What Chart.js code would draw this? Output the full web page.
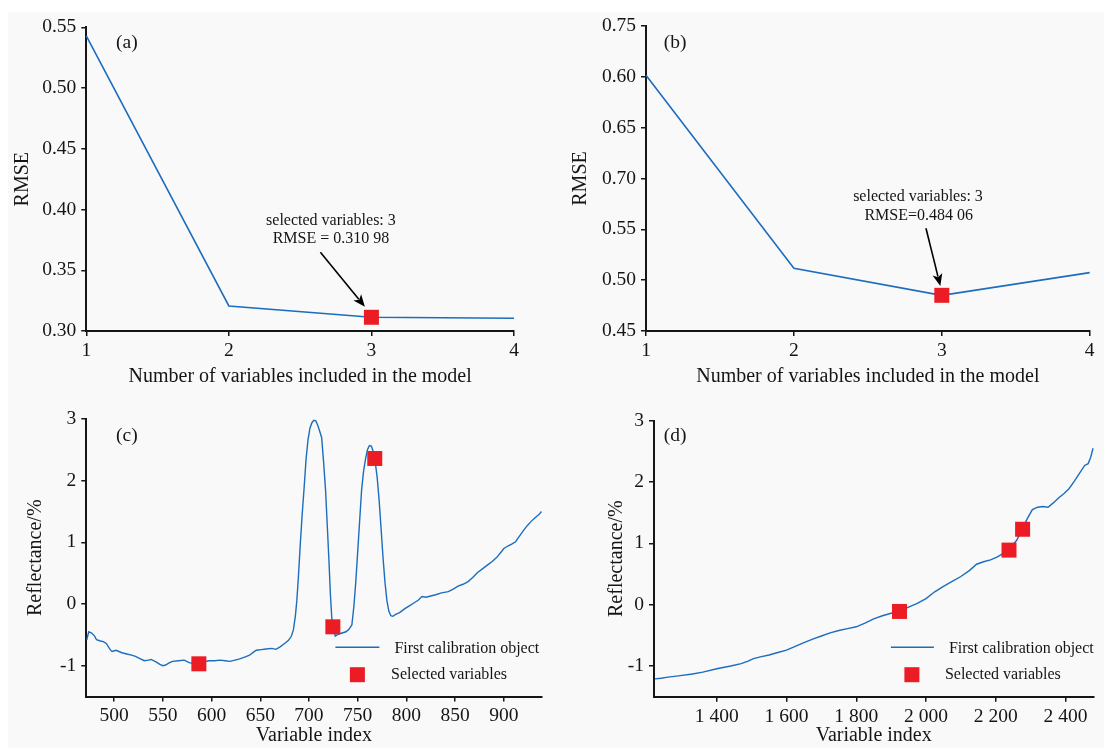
<!DOCTYPE html>
<html><head><meta charset="utf-8">
<script src="https://cdn.jsdelivr.net/npm/chart.js@4.4.1/dist/chart.umd.min.js"></script>
<style>
html,body{margin:0;padding:0;background:#fff;}
#wrap{position:relative;width:1104px;height:748px;overflow:hidden;background:#fff;}
#bg{position:absolute;left:8px;top:12px;right:0;bottom:0;background:#f9f9f9;}
canvas{position:absolute;}
</style></head><body>
<div id="wrap"><div id="bg"></div>
<canvas id="ca" width="552" height="389" style="left:0;top:0"></canvas>
<canvas id="cb" width="552" height="389" style="left:552px;top:0"></canvas>
<canvas id="cc" width="552" height="359" style="left:0;top:389px"></canvas>
<canvas id="cd" width="552" height="359" style="left:552px;top:389px"></canvas>
</div>
<script>
// ---------- DATA ----------
// (a)
const aNum = [1, 2, 3, 4];
const aRMSE = [0.543, 0.3206, 0.3113, 0.3105];
const aSelX = [3];
const aSelY = [0.3113];
const aYTicks = [0.30, 0.35, 0.40, 0.45, 0.50, 0.55];
const aYLabels = ['0.30', '0.35', '0.40', '0.45', '0.50', '0.55'];
// (b)  (tick labels reproduced as printed in the source figure)
const bNum = [1, 2, 3, 4];
const bRMSE = [0.7015, 0.5117, 0.4851, 0.5074];
const bSelX = [3];
const bSelY = [0.4851];
const bYTicks = [0.45, 0.50, 0.55, 0.60, 0.65, 0.70, 0.75];
const bYLabels = ['0.45', '0.50', '0.55', '0.70', '0.65', '0.60', '0.75'];
const numTicks = [1, 2, 3, 4];
const numLabels = ['1', '2', '3', '4'];
// (c)
const cIndex = [472,474,477,480,482,486,489,492,496,498,502,505,508,513,518,522,526,531,535,538,543,547,550,553,556,560,566,572,577,581,585,590,597,603,609,614,619,624,629,634,639,643,646,651,656,662,666,670,675,679,682,684,686,687.5,689,691,693,695,697,699,701,703,705,707,709,711,713,715,717,719,720.5,722,723.5,725,727,730,734,738,741,744,746,748,750,752,754,756,758,760,762,764,766,768,770,772,774,776,778,780,782,784,786,789,793,798,803,808,812,816,820,825,830,836,843,848,853,858,863,868,873,878,883,888,893,897,900,904,908,912,916,920,924,928,932,936,938.5];
const cRefl = [-0.58,-0.45,-0.47,-0.52,-0.58,-0.60,-0.61,-0.64,-0.74,-0.77,-0.75,-0.77,-0.79,-0.81,-0.83,-0.85,-0.88,-0.92,-0.91,-0.90,-0.94,-0.98,-1.00,-0.99,-0.96,-0.93,-0.92,-0.91,-0.95,-0.96,-0.97,-0.95,-0.92,-0.92,-0.91,-0.92,-0.93,-0.91,-0.89,-0.86,-0.83,-0.78,-0.75,-0.74,-0.73,-0.72,-0.735,-0.70,-0.64,-0.59,-0.52,-0.42,-0.20,0.05,0.40,0.95,1.45,1.88,2.35,2.66,2.85,2.94,2.98,2.97,2.90,2.80,2.70,2.30,1.85,1.20,0.70,0.15,-0.25,-0.42,-0.52,-0.49,-0.47,-0.45,-0.41,-0.34,-0.05,0.35,0.85,1.35,1.85,2.15,2.35,2.50,2.57,2.56,2.47,2.30,2.05,1.68,1.22,0.75,0.35,0.05,-0.12,-0.19,-0.20,-0.17,-0.14,-0.08,-0.03,0.02,0.06,0.12,0.11,0.13,0.15,0.18,0.20,0.24,0.29,0.32,0.36,0.43,0.51,0.57,0.63,0.69,0.76,0.84,0.90,0.94,0.97,1.01,1.10,1.19,1.27,1.34,1.40,1.45,1.50];
const cSelX = [587, 724.5, 767.5];
const cSelY = [-0.97, -0.37, 2.36];
const cXTicks = [500, 550, 600, 650, 700, 750, 800, 850, 900];
const cXLabels = ['500', '550', '600', '650', '700', '750', '800', '850', '900'];
// (d)
const dIndex = [1222,1240,1260,1290,1330,1360,1400,1440,1470,1490,1505,1525,1550,1575,1600,1625,1650,1675,1700,1725,1750,1775,1800,1825,1850,1875,1900,1925,1950,1975,2000,2025,2050,2075,2100,2125,2145,2165,2185,2205,2225,2245,2260,2275,2290,2305,2320,2335,2350,2365,2380,2395,2410,2425,2440,2455,2465,2472,2479];
const dRefl = [-1.21,-1.20,-1.18,-1.16,-1.13,-1.10,-1.045,-1.00,-0.96,-0.92,-0.88,-0.85,-0.82,-0.78,-0.74,-0.68,-0.62,-0.56,-0.51,-0.46,-0.42,-0.39,-0.36,-0.30,-0.23,-0.18,-0.14,-0.10,-0.04,0.02,0.10,0.21,0.30,0.38,0.46,0.56,0.66,0.70,0.73,0.78,0.85,0.95,1.05,1.22,1.40,1.55,1.59,1.60,1.59,1.66,1.74,1.81,1.89,2.01,2.14,2.27,2.30,2.40,2.55];
const dSelX = [1924, 2238, 2277];
const dSelY = [-0.11, 0.89, 1.23];
const dXTicks = [1400, 1600, 1800, 2000, 2200, 2400];
const dXLabels = ['1 400', '1 600', '1 800', '2 000', '2 200', '2 400'];
const reflTicks = [-1, 0, 1, 2, 3];
const reflLabels = ['-1', '0', '1', '2', '3'];

// ---------- STYLE ----------
const FONT = "'Liberation Serif', 'Times New Roman', serif";
const BIG = 19.5, TITLE = 20, SMALL = 16;
const BLUE = '#1c6dbe', RED = '#ec1c24', INK = '#151515';

const zip = (xs, ys) => xs.map((x, i) => ({x, y: ys[i]}));

const overlay = {
  id: 'overlay',
  afterDatasetsDraw(chart) {
    const o = chart.options.plugins.overlay;
    const {ctx, chartArea: ca, scales} = chart;
    ctx.save();
    ctx.fillStyle = INK;
    ctx.textBaseline = 'middle';
    ctx.font = BIG + 'px ' + FONT;
    ctx.textAlign = 'center';
    ctx.fillText(o.panel.text, ca.left + o.panel.dx, ca.top + o.panel.dy);
    if (o.annot) {
      ctx.font = SMALL + 'px ' + FONT;
      o.annot.texts.forEach(t => {
        ctx.fillText(t.text, scales.x.getPixelForValue(t.x), scales.y.getPixelForValue(t.y));
      });
      const a = o.annot.arrow;
      const x1 = scales.x.getPixelForValue(a.x1), y1 = scales.y.getPixelForValue(a.y1);
      const x2 = scales.x.getPixelForValue(a.x2), y2 = scales.y.getPixelForValue(a.y2);
      const ang = Math.atan2(y2 - y1, x2 - x1);
      const L = 12, W = 5;
      ctx.strokeStyle = '#000'; ctx.fillStyle = '#000'; ctx.lineWidth = 1.6;
      ctx.beginPath(); ctx.moveTo(x1, y1);
      ctx.lineTo(x2 - Math.cos(ang) * L * 0.8, y2 - Math.sin(ang) * L * 0.8); ctx.stroke();
      ctx.beginPath();
      ctx.moveTo(x2, y2);
      ctx.lineTo(x2 - Math.cos(ang) * L - Math.sin(ang) * W, y2 - Math.sin(ang) * L + Math.cos(ang) * W);
      ctx.lineTo(x2 - Math.cos(ang) * L * 0.75, y2 - Math.sin(ang) * L * 0.75);
      ctx.lineTo(x2 - Math.cos(ang) * L + Math.sin(ang) * W, y2 - Math.sin(ang) * L - Math.cos(ang) * W);
      ctx.closePath(); ctx.fill();
    }
    if (o.legend) {
      const g = o.legend;
      const ds = chart.data.datasets;
      ctx.font = SMALL + 'px ' + FONT;
      ctx.textAlign = 'left';
      ctx.fillStyle = INK;
      ctx.strokeStyle = BLUE; ctx.lineWidth = 1.6;
      const ly = ca.bottom + g.lineDy;
      ctx.beginPath(); ctx.moveTo(ca.right + g.lineX1, ly); ctx.lineTo(ca.right + g.lineX2, ly); ctx.stroke();
      ctx.fillText(ds[1].label, ca.right + g.text1X, ly + 1);
      const sy = ca.bottom + g.sqDy;
      ctx.fillStyle = RED;
      ctx.fillRect(ca.right + g.sqX - 7.5, sy - 7.5, 15, 15);
      ctx.fillStyle = INK;
      ctx.fillText(ds[0].label, ca.right + g.text2X, sy);
    }
    ctx.restore();
  }
};

function axis(opts) {
  return {
    type: 'linear', position: opts.pos, min: opts.min, max: opts.max,
    afterBuildTicks: s => { s.ticks = opts.ticks.map(v => ({value: v})); },
    afterFit: s => { if (opts.pos === 'left') s.width = opts.size; else s.height = opts.size; },
    ticks: {
      autoSkip: false, maxRotation: 0, minRotation: 0,
      padding: opts.pos === 'left' ? 5 : 3,
      color: INK, font: {family: FONT, size: BIG},
      callback: (v) => { const i = opts.ticks.indexOf(v); return i >= 0 ? opts.labels[i] : ''; }
    },
    grid: {drawOnChartArea: false, drawTicks: true, tickLength: 5, tickColor: INK, tickWidth: 1.5, lineWidth: 1.5},
    border: {display: true, color: INK, width: 2},
    title: {display: true, text: opts.title, color: INK, font: {family: FONT, size: TITLE, lineHeight: 1.2},
            padding: opts.pos === 'left' ? {top: opts.titlePad, bottom: 0} : {top: 0, bottom: opts.titlePad}}
  };
}

function make(id, cfg) {
  new Chart(document.getElementById(id), {
    type: 'line',
    data: {datasets: [
      {label: 'Selected variables', data: zip(cfg.selX, cfg.selY), showLine: false,
       pointStyle: 'rect', pointRadius: 10.6, pointHoverRadius: 10.6, pointBackgroundColor: RED,
       pointBorderWidth: 0, backgroundColor: RED, borderColor: RED},
      {label: 'First calibration object', data: zip(cfg.lx, cfg.ly), borderColor: BLUE, borderWidth: cfg.lw,
       pointRadius: 0, tension: 0, fill: false}
    ]},
    options: {
      responsive: false, animation: false, events: [],
      layout: {padding: cfg.pad},
      clip: false,
      plugins: {legend: {display: false}, tooltip: {enabled: false}, overlay: cfg.overlay},
      scales: {
        x: axis(Object.assign({pos: 'bottom'}, cfg.x)),
        y: axis(Object.assign({pos: 'left'}, cfg.y))
      }
    },
    plugins: [overlay]
  });
}

make('ca', {
  lx: aNum, ly: aRMSE, selX: aSelX, selY: aSelY, lw: 1.6,
  pad: {left: 0, top: 27.3, right: 38, bottom: 0},
  x: {min: 1, max: 4, ticks: numTicks, labels: numLabels, size: 58, title: 'Number of variables included in the model', titlePad: 0},
  y: {min: 0.30, max: 0.55, ticks: aYTicks, labels: aYLabels, size: 86.3, title: 'RMSE', titlePad: 11},
  overlay: {panel: {text: '(a)', dx: 40.5, dy: 16},
    annot: {texts: [{text: 'selected variables: 3', x: 2.716, y: 0.391}, {text: 'RMSE = 0.310 98', x: 2.716, y: 0.3757}],
            arrow: {x1: 2.642, y1: 0.3648, x2: 2.954, y2: 0.320}}}
});
make('cb', {
  lx: bNum, ly: bRMSE, selX: bSelX, selY: bSelY, lw: 1.6,
  pad: {left: 0, top: 26, right: 14.3, bottom: 0},
  x: {min: 1, max: 4, ticks: numTicks, labels: numLabels, size: 58, title: 'Number of variables included in the model', titlePad: 0},
  y: {min: 0.45, max: 0.75, ticks: bYTicks, labels: bYLabels, size: 94, title: 'RMSE', titlePad: 17},
  overlay: {panel: {text: '(b)', dx: 29, dy: 17.3},
    annot: {texts: [{text: 'selected variables: 3', x: 2.839, y: 0.582}, {text: 'RMSE=0.484 06', x: 2.844, y: 0.563}],
            arrow: {x1: 2.893, y1: 0.551, x2: 2.99, y2: 0.4943}}}
});
make('cc', {
  lx: cIndex, ly: cRefl, selX: cSelX, selY: cSelY, lw: 1.4,
  pad: {left: 0, top: 30, right: 4.5, bottom: 0},
  x: {min: 471.5, max: 938.5, ticks: cXTicks, labels: cXLabels, size: 51.5, title: 'Variable index', titlePad: 0},
  y: {min: -1.5, max: 3, ticks: reflTicks, labels: reflLabels, size: 86.3, title: 'Reflectance/%', titlePad: 24},
  overlay: {panel: {text: '(c)', dx: 40.5, dy: 16.7},
    legend: {lineX1: -206, lineX2: -162, lineDy: -49.2, text1X: -147, sqX: -184, sqDy: -21.8, text2X: -150.3}}
});
make('cd', {
  lx: dIndex, ly: dRefl, selX: dSelX, selY: dSelY, lw: 1.4,
  pad: {left: 0, top: 31.7, right: 4.5, bottom: 0},
  x: {min: 1220, max: 2480, ticks: dXTicks, labels: dXLabels, size: 51.3, title: 'Variable index', titlePad: 0},
  y: {min: -1.5, max: 3, ticks: reflTicks, labels: reflLabels, size: 102, title: 'Reflectance/%', titlePad: 53},
  overlay: {panel: {text: '(d)', dx: 21, dy: 15},
    legend: {lineX1: -202.5, lineX2: -159.5, lineDy: -49.4, text1X: -144.5, sqX: -181.5, sqDy: -22, text2X: -148.5}}
});
</script>
</body></html>
